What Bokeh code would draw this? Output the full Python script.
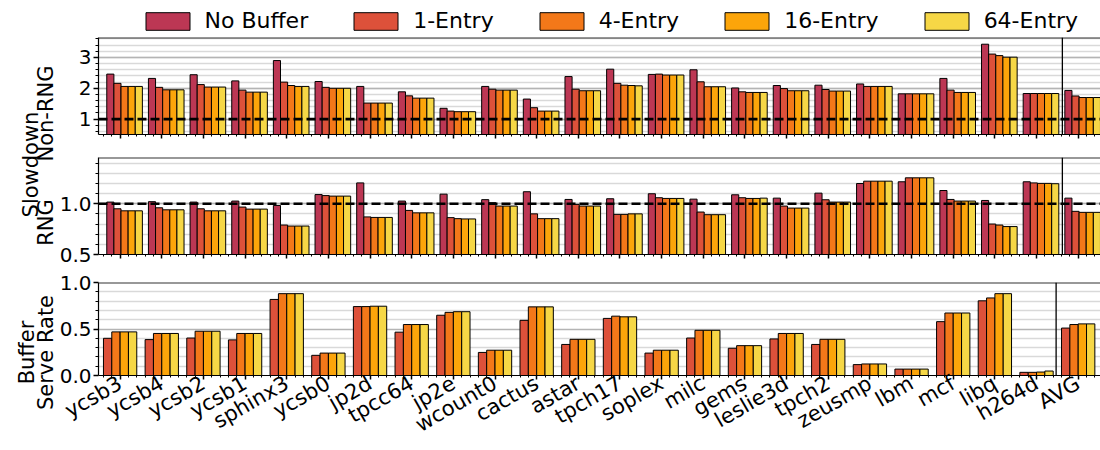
import numpy as np
from math import pi, radians

from bokeh.plotting import figure
from bokeh.layouts import row, column
from bokeh.models import Range1d, FixedTicker, Span, Legend, LegendItem, Label
from bokeh.embed import file_html
from bokeh.resources import INLINE

# ---------------------------------------------------------------- data
benchmarks = ["ycsb3", "ycsb4", "ycsb2", "ycsb1", "sphinx3", "ycsb0", "jp2d",
              "tpcc64", "jp2e", "wcount0", "cactus", "astar", "tpch17",
              "soplex", "milc", "gems", "leslie3d", "tpch2", "zeusmp", "lbm",
              "mcf", "libq", "h264d", "AVG"]

series = ["No Buffer", "1-Entry", "4-Entry", "16-Entry", "64-Entry"]
colors = ["#bc3754", "#dd513a", "#f37819", "#fca50a", "#f6d746"]

# slowdown, non-RNG applications
nonrng_nobuf = [2.46, 2.32, 2.44, 2.24, 2.90, 2.22, 2.06, 1.885, 1.35, 2.06, 1.65, 2.38,
                2.62, 2.45, 2.60, 2.01, 2.09, 2.10, 2.14, 1.82, 2.32, 3.43, 1.83, 1.93]
nonrng_e1 = [2.16, 2.03, 2.12, 1.94, 2.20, 2.03, 1.52, 1.755, 1.26, 1.97, 1.37, 1.97,
             2.16, 2.46, 2.21, 1.885, 1.99, 1.96, 2.06, 1.82, 1.94, 3.11, 1.83, 1.75]
nonrng_e4 = [2.06, 1.95, 2.04, 1.875, 2.09, 2.00, 1.52, 1.68, 1.24, 1.94, 1.26, 1.92,
             2.10, 2.43, 2.05, 1.865, 1.92, 1.91, 2.06, 1.82, 1.865, 3.06, 1.83, 1.70]
nonrng_e16 = [2.06, 1.95, 2.04, 1.875, 2.06, 2.00, 1.52, 1.68, 1.24, 1.94, 1.26, 1.92,
              2.09, 2.43, 2.05, 1.865, 1.92, 1.91, 2.06, 1.82, 1.865, 3.01, 1.83, 1.70]
nonrng_e64 = [2.06, 1.95, 2.04, 1.875, 2.06, 2.00, 1.52, 1.68, 1.24, 1.94, 1.26, 1.92,
              2.08, 2.43, 2.05, 1.865, 1.92, 1.91, 2.06, 1.82, 1.865, 3.01, 1.83, 1.70]

# slowdown, RNG applications
rng_nobuf = [1.016, 1.02, 1.016, 1.026, 0.983, 1.09, 1.205, 1.026, 1.094, 1.04, 1.118, 1.042,
             1.049, 1.098, 1.045, 1.088, 1.055, 1.104, 1.199, 1.216, 1.13, 1.032, 1.216, 1.055]
rng_e1 = [0.95, 0.96, 0.95, 0.967, 0.79, 1.08, 0.87, 0.934, 0.863, 1.01, 0.90, 0.993,
          0.895, 1.059, 0.918, 1.059, 0.977, 1.039, 1.222, 1.255, 1.042, 0.80, 1.205, 0.925]
rng_e4 = [0.93, 0.94, 0.93, 0.947, 0.78, 1.075, 0.865, 0.91, 0.853, 0.977, 0.853, 0.977,
          0.895, 1.052, 0.892, 1.052, 0.957, 1.016, 1.222, 1.255, 1.026, 0.79, 1.20, 0.915]
rng_e16 = [0.93, 0.94, 0.93, 0.947, 0.78, 1.075, 0.865, 0.91, 0.85, 0.977, 0.853, 0.977,
           0.90, 1.052, 0.892, 1.052, 0.957, 1.016, 1.222, 1.255, 1.026, 0.775, 1.20, 0.915]
rng_e64 = [0.93, 0.94, 0.93, 0.947, 0.78, 1.075, 0.865, 0.91, 0.85, 0.977, 0.853, 0.977,
           0.90, 1.052, 0.892, 1.055, 0.957, 1.016, 1.222, 1.255, 1.026, 0.775, 1.197, 0.915]

# fraction of RNG requests served from the buffer
serve_e1 = [0.40, 0.386, 0.403, 0.383, 0.818, 0.217, 0.741, 0.466, 0.648, 0.248, 0.593, 0.334,
            0.614, 0.241, 0.403, 0.293, 0.393, 0.334, 0.117, 0.069, 0.579, 0.803, 0.034, 0.51]
serve_e4 = [0.469, 0.452, 0.476, 0.452, 0.88, 0.241, 0.741, 0.548, 0.679, 0.272, 0.738, 0.389,
            0.638, 0.272, 0.486, 0.321, 0.452, 0.389, 0.124, 0.069, 0.672, 0.834, 0.034, 0.548]
serve_e16 = [0.469, 0.452, 0.476, 0.452, 0.88, 0.241, 0.745, 0.548, 0.686, 0.272, 0.738, 0.389,
             0.631, 0.272, 0.486, 0.321, 0.452, 0.389, 0.124, 0.069, 0.672, 0.88, 0.037, 0.555]
serve_e64 = [0.469, 0.452, 0.476, 0.452, 0.88, 0.241, 0.745, 0.548, 0.686, 0.272, 0.738, 0.389,
             0.631, 0.272, 0.486, 0.321, 0.452, 0.389, 0.124, 0.069, 0.672, 0.88, 0.048, 0.555]

# ---------------------------------------------------------------- layout constants
FONT = "DejaVu Sans"
TICK_FS = "20px"
LABEL_W = 56
PLOT_W = 1100 - LABEL_W
X_START = -0.519
X_END = X_START + 1005 / 41.78
xpos = np.arange(len(benchmarks))
x_minor = [round(-0.4 + 0.2 * j, 4) for j in range(120)]


def make_panel(height, y0, y1, yticks, ylabels, yminor, top, bottom):
    p = figure(width=PLOT_W, height=height,
               x_range=Range1d(X_START, X_END), y_range=Range1d(y0, y1),
               output_backend="svg", toolbar_location=None,
               min_border_left=39, min_border_right=0,
               min_border_top=top, min_border_bottom=bottom)
    p.outline_line_color = None
    p.xgrid.visible = False

    yt = FixedTicker(ticks=yticks, minor_ticks=yminor)
    p.yaxis.ticker = yt
    p.ygrid.ticker = yt
    p.ygrid.grid_line_color = "#b4b4b4"
    p.ygrid.grid_line_width = 1.5
    p.ygrid.minor_grid_line_color = "#d9d9d9"
    p.ygrid.minor_grid_line_width = 1.5

    ya = p.yaxis[0]
    ya.major_label_overrides = dict(zip(yticks, ylabels))
    ya.axis_line_color = "black"
    ya.axis_line_width = 1.2
    ya.major_tick_in = 0
    ya.major_tick_out = 5
    ya.major_tick_line_width = 1.5
    ya.minor_tick_in = 0
    ya.minor_tick_out = 3
    ya.minor_tick_line_width = 1
    ya.major_label_standoff = 2
    ya.major_label_text_font = FONT
    ya.major_label_text_font_size = TICK_FS
    ya.major_label_text_color = "black"

    xa = p.xaxis[0]
    xa.ticker = FixedTicker(ticks=list(xpos), minor_ticks=x_minor)
    xa.axis_line_color = "black"
    xa.axis_line_width = 1.2
    xa.major_tick_in = 0
    xa.major_tick_out = 4
    xa.major_tick_line_width = 1.5
    xa.minor_tick_in = 0
    xa.minor_tick_out = 2
    xa.minor_tick_line_width = 1
    xa.major_label_text_font = FONT
    xa.major_label_text_color = "black"

    # top border of the frame
    p.add_layout(Span(location=y1, dimension="width", line_color="#333333", line_width=2))
    return p


# ---------------------------------------------------------------- legend strip
leg = figure(width=PLOT_W, height=35, x_range=Range1d(0, 1), y_range=Range1d(0, 1),
             x_axis_type=None, y_axis_type=None, min_border=0,
             output_backend="svg", toolbar_location=None)
leg.outline_line_color = None
leg.grid.visible = False
items = []
for s, c in zip(series, colors):
    # legend proxies, placed entirely outside the strip's visible ranges
    r = leg.vbar(x=[-5.0], top=[-5.0], bottom=[-6.0], width=0.1,
                 fill_color=c, line_color="black", line_width=1)
    items.append(LegendItem(label=s, renderers=[r]))
legend = Legend(items=items, orientation="horizontal", location=(41.5, 2),
                glyph_width=55, glyph_height=22, label_standoff=10, spacing=40,
                padding=3, margin=0, border_line_color=None, background_fill_alpha=0,
                label_text_font=FONT, label_text_font_size="22px", label_text_color="black")
leg.add_layout(legend, "center")

# ---------------------------------------------------------------- slowdown panels
p1 = make_panel(115, 0.5, 3.648, [1, 2, 3], ["1", "2", "3"],
                [round(0.6 + 0.2 * j, 4) for j in range(16)], 2, 16)
p2 = make_panel(118, 0.5, 1.455, [0.5, 1.0], ["0.5", "1.0"],
                [round(0.6 + 0.1 * j, 4) for j in range(9)], 7, 14)

w5 = 0.171
for p, groups in ((p1, [nonrng_nobuf, nonrng_e1, nonrng_e4, nonrng_e16, nonrng_e64]),
                  (p2, [rng_nobuf, rng_e1, rng_e4, rng_e16, rng_e64])):
    for k, (vals, c) in enumerate(zip(groups, colors)):
        p.vbar(x=xpos + 0.107 + (k - 2) * w5, top=vals, bottom=0, width=w5,
               fill_color=c, line_color="black", line_width=1)
    # tick marks only, no tick labels on the upper panels
    p.xaxis.major_label_text_font_size = "1px"
    p.xaxis.major_label_text_color = None
    p.xaxis.major_label_standoff = 0
    p.add_layout(Span(location=1.0, dimension="width", line_color="black",
                      line_width=2.6, line_dash="9 4"))
    p.add_layout(Span(location=22.62, dimension="height", line_color="black", line_width=1.3))

# ---------------------------------------------------------------- serve-rate panel
p3 = make_panel(182, 0.0, 1.0, [0.0, 0.5, 1.0], ["0.0", "0.5", "1.0"],
                [0.1, 0.2, 0.3, 0.4, 0.6, 0.7, 0.8, 0.9], 14, 71)
w4 = 0.2
for k, (vals, c) in enumerate(zip([serve_e1, serve_e4, serve_e16, serve_e64], colors[1:])):
    p3.vbar(x=xpos + (k - 1.5) * w4, top=vals, bottom=0, width=w4,
            fill_color=c, line_color="black", line_width=1)
p3.add_layout(Span(location=22.47, dimension="height", line_color="black", line_width=1.3))
p3.xaxis.major_label_overrides = {int(i): name for i, name in zip(xpos, benchmarks)}
p3.xaxis.major_label_orientation = radians(30)
p3.xaxis.major_label_text_font_size = "21px"
p3.xaxis.major_label_standoff = 2

# ---------------------------------------------------------------- shared y labels
lab = figure(width=LABEL_W, height=450, x_range=Range1d(0, LABEL_W), y_range=Range1d(450, 0),
             x_axis_type=None, y_axis_type=None, min_border=0,
             output_backend="svg", toolbar_location=None)
lab.outline_line_color = None
lab.grid.visible = False
for text, bx, cy in (("Slowdown", 30, 164), ("Non-RNG", 45, 113), ("RNG", 45, 222),
                     ("Buffer", 26, 352), ("Serve Rate", 45, 352)):
    lab.add_layout(Label(x=bx, y=cy, text=text, angle=pi / 2,
                         text_align="center", text_baseline="alphabetic",
                         text_font=FONT, text_font_size="21px", text_color="black"))

layout = row(lab, column(leg, p1, p2, p3, spacing=0), spacing=0)

with open("out.html", "w") as f:
    f.write(file_html(layout, INLINE))
